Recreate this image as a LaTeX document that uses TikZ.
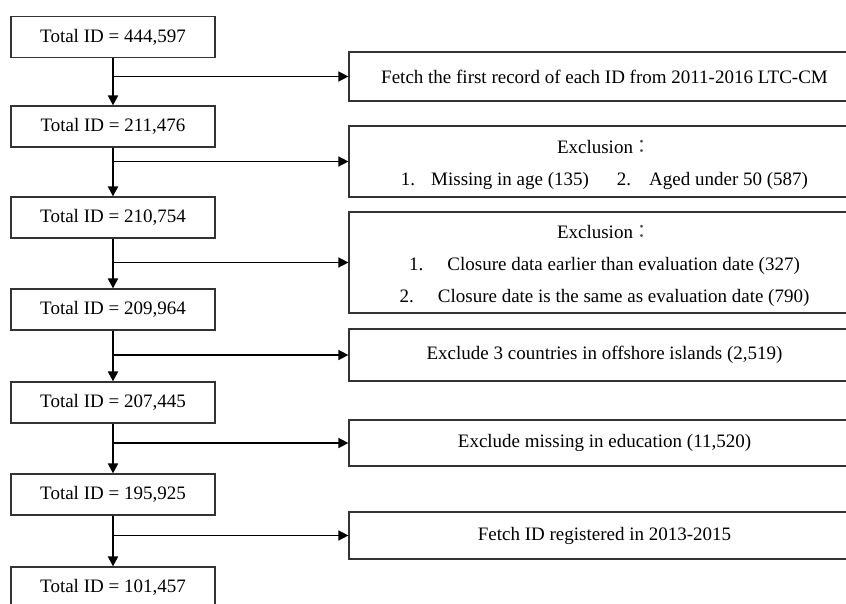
\documentclass[tikz,border=0pt]{standalone}
\usepackage{fontspec}
\setmainfont{Liberation Serif}
\newfontfamily\cjk{Noto Sans CJK TC}
\usetikzlibrary{arrows.meta}
\begin{document}
\begin{tikzpicture}[x=1pt,y=-1pt,
  every node/.style={font=\fontsize{19}{32}\selectfont, text=black},
  leftbox/.style={draw=black!80, line width=1.2pt, minimum width=204pt, minimum height=41pt, inner sep=0pt},
  rightbox/.style={draw=black!80, line width=1.2pt, minimum width=511pt, inner sep=0pt, align=center},
  down/.style={line width=2pt, -{Triangle[length=10pt,width=10pt]}},
  side/.style={line width=1.5pt, -{Triangle[length=10pt,width=10pt]}}]
\clip (0,0) rectangle (846,603);
% left column
\node[leftbox] (l1) at (113,37) {Total ID = 444,597};
\node[leftbox] (l2) at (113,126.5) {Total ID = 211,476};
\node[leftbox] (l3) at (113,217.5) {Total ID = 210,754};
\node[leftbox] (l4) at (113,309.5) {Total ID = 209,964};
\node[leftbox] (l5) at (113,402.5) {Total ID = 207,445};
\node[leftbox] (l6) at (113,494.5) {Total ID = 195,925};
\node[leftbox] (l7) at (113,587.5) {Total ID = 101,457};
% right column
\node[rightbox, minimum height=49pt] (r1) at (604.5,76.5) {Fetch the first record of each ID from 2011-2016 LTC-CM};
\node[rightbox, minimum height=71pt] (r2) at (604.5,161.5) {\rule{0pt}{20pt}Exclusion{\cjk\color{black!70}：}\\1.\hspace{16pt}Missing in age (135)\hspace{28pt}2.\hspace{18pt}Aged under 50 (587)};
\node[rightbox, minimum height=101pt] (r3) at (604.5,262.5) {\rule{0pt}{20pt}Exclusion{\cjk\color{black!70}：}\\1.\hspace{24pt}Closure data earlier than evaluation date (327)\\2.\hspace{24pt}Closure date is the same as evaluation date (790)};
\node[rightbox, minimum height=52pt] (r4) at (604.5,355) {Exclude 3 countries in offshore islands (2,519)};
\node[rightbox, minimum height=46pt] (r5) at (604.5,443) {Exclude missing in education (11,520)};
\node[rightbox, minimum height=47pt] (r6) at (604.5,535.5) {Fetch ID registered in 2013-2015};
% vertical arrows
\draw[down] (l1) -- (l2);
\draw[down] (l2) -- (l3);
\draw[down] (l3) -- (l4);
\draw[down] (l4) -- (l5);
\draw[down] (l5) -- (l6);
\draw[down] (l6) -- (l7);
% side arrows
\draw[side] (l1.south |- r1.west) -- (r1.west);
\draw[side] (l2.south |- r2.west) -- (r2.west);
\draw[side] (l3.south |- r3.west) -- (r3.west);
\draw[side] (l4.south |- r4.west) -- (r4.west);
\draw[side] (l5.south |- r5.west) -- (r5.west);
\draw[side] (l6.south |- r6.west) -- (r6.west);
\end{tikzpicture}
\end{document}
